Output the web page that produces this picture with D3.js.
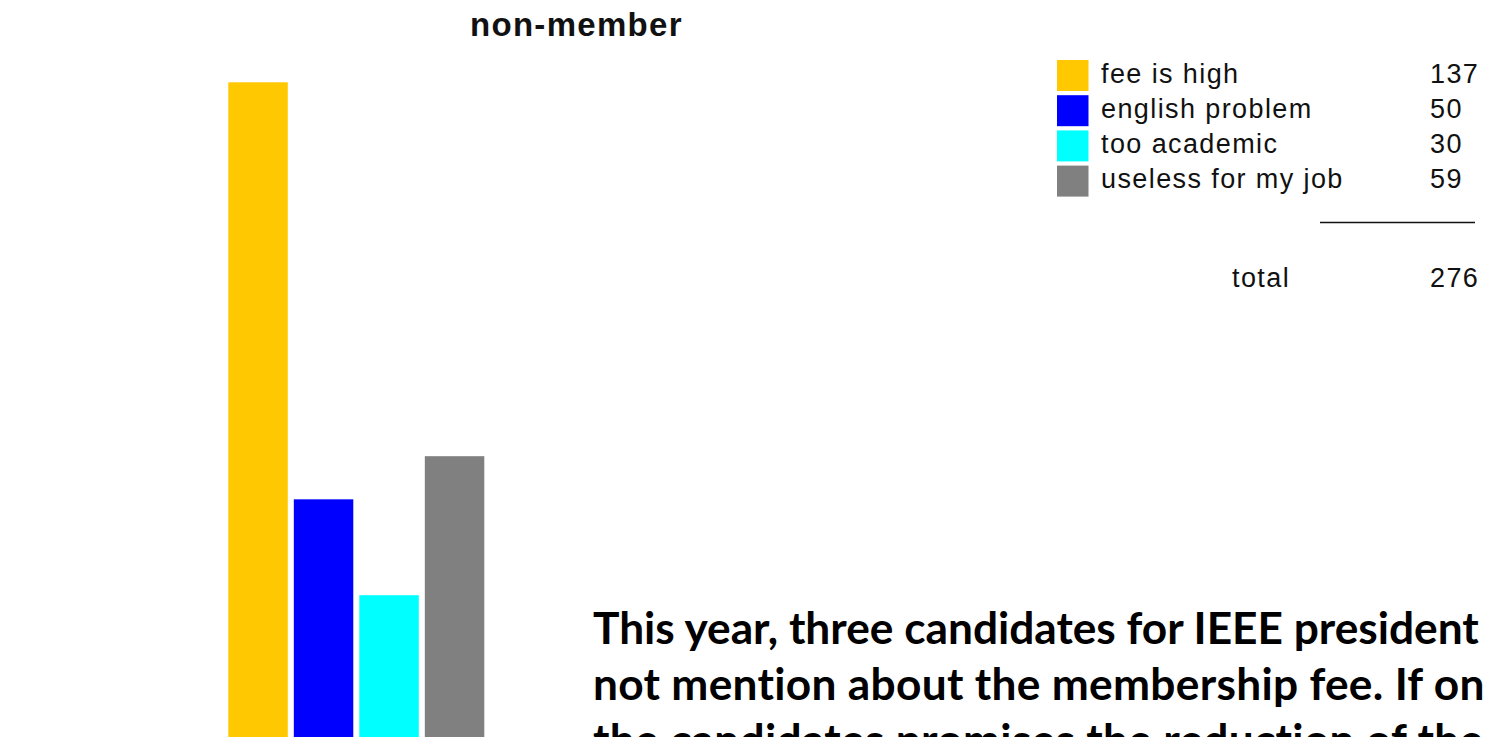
<!DOCTYPE html>
<html>
<head>
<meta charset="utf-8">
<script src="https://cdn.jsdelivr.net/npm/d3@7"></script>
<style>
  html, body { margin: 0; padding: 0; background: #fff; overflow: hidden; }
  svg { display: block; }
</style>
</head>
<body>
<div id="chart"></div>
<script>
// reasons given by non-members
var categories = ["fee is high", "english problem", "too academic", "useless for my job"];
var counts = [137, 50, 30, 59];
var colors = ["#ffc800", "#0000ff", "#00ffff", "#808080"];
var chartTitle = "non-member";
var totalLabel = "total";
var noteLines = [
  "This year, three candidates for IEEE president",
  "not mention about the membership fee. If one of",
  "the candidates promises the reduction of the fee,"
];

var width = 1485, height = 737;

var svg = d3.select("#chart").append("svg")
    .attr("width", width)
    .attr("height", height);

var x = d3.scaleBand().domain(categories).range([228.3, 484.3]).paddingInner(0.092).paddingOuter(0),
    y = d3.scaleLinear().domain([0, d3.max(counts)]).range([739, 82.3]);

// title
svg.append("text")
    .attr("x", 470)
    .attr("y", 36)
    .attr("font-family", "Liberation Sans, Arial, sans-serif")
    .attr("font-weight", "bold")
    .attr("font-size", 33)
    .attr("letter-spacing", 1.3)
    .attr("fill", "#111")
    .text(chartTitle);

// bars
svg.selectAll(".bar")
    .data(categories)
    .enter().append("rect")
    .attr("class", "bar")
    .attr("x", function(d) { return x(d); })
    .attr("y", function(d, i) { return y(counts[i]); })
    .attr("width", x.bandwidth())
    .attr("height", function(d, i) { return y(0) - y(counts[i]); })
    .attr("fill", function(d, i) { return colors[i]; });

// legend
var legendFont = "Liberation Sans, Arial, sans-serif";
var legend = svg.append("g").attr("transform", "translate(1057,60)");
var rows = legend.selectAll(".row")
    .data(categories)
    .enter().append("g")
    .attr("class", "row")
    .attr("transform", function(d, i) { return "translate(0," + (i * 35.2) + ")"; });

rows.append("rect")
    .attr("width", 31.5)
    .attr("height", 31)
    .attr("fill", function(d, i) { return colors[i]; });

rows.append("text")
    .attr("x", 44)
    .attr("y", 22.5)
    .attr("font-family", legendFont)
    .attr("font-size", 27)
    .attr("letter-spacing", 1.4)
    .attr("fill", "#111")
    .text(function(d) { return d; });

rows.append("text")
    .attr("x", 373)
    .attr("y", 22.5)
    .attr("font-family", legendFont)
    .attr("font-size", 27)
    .attr("letter-spacing", 1.4)
    .attr("fill", "#111")
    .text(function(d, i) { return counts[i]; });

svg.append("line")
    .attr("x1", 1320).attr("x2", 1475)
    .attr("y1", 222.5).attr("y2", 222.5)
    .attr("stroke", "#111")
    .attr("stroke-width", 1.6);

svg.append("text")
    .attr("x", 1232)
    .attr("y", 286.5)
    .attr("font-family", legendFont)
    .attr("font-size", 27)
    .attr("letter-spacing", 1.4)
    .attr("fill", "#111")
    .text(totalLabel);

svg.append("text")
    .attr("x", 1430)
    .attr("y", 286.5)
    .attr("font-family", legendFont)
    .attr("font-size", 27)
    .attr("letter-spacing", 1.4)
    .attr("fill", "#111")
    .text(d3.sum(counts));

// note text, cut off at the right and bottom edges as in the slide
var note = svg.append("g");
var probe = note.append("text")
    .attr("font-family", "Lato, sans-serif")
    .attr("font-weight", "bold")
    .attr("font-size", 40)
    .text(noteLines[0]);
var fs = 40 * 886 / probe.node().getComputedTextLength();
probe.remove();

note.selectAll("text")
    .data(noteLines)
    .enter().append("text")
    .attr("x", 593)
    .attr("y", function(d, i) { return 644 + i * 56; })
    .attr("font-family", "Lato, sans-serif")
    .attr("font-weight", "bold")
    .attr("font-size", fs)
    .attr("letter-spacing", function(d, i) { return i === 0 ? 0 : 0.3; })
    .attr("fill", "#000")
    .text(function(d) { return d; });
</script>
</body>
</html>
